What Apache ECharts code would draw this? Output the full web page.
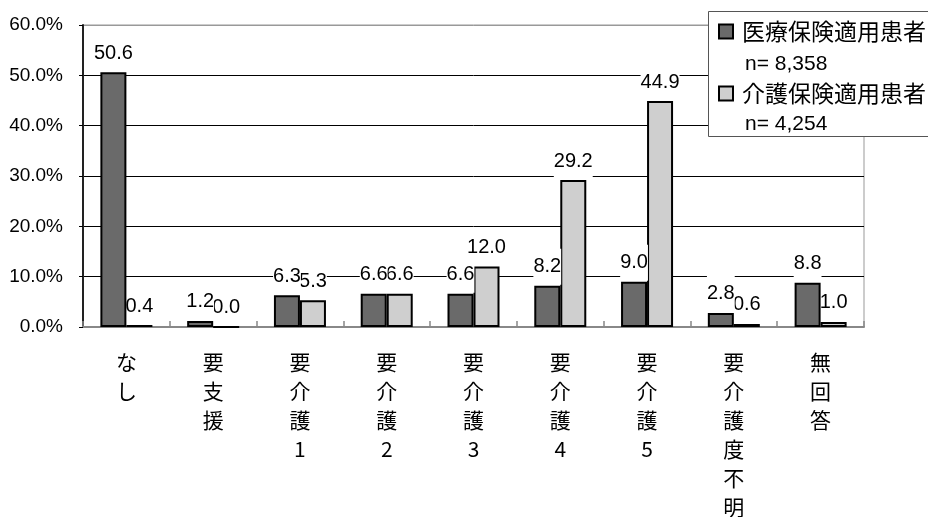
<!DOCTYPE html>
<html>
<head>
<meta charset="utf-8">
<script src="https://cdn.jsdelivr.net/npm/echarts@6/dist/echarts.min.js"></script>
<style>
  html, body { margin: 0; padding: 0; background: #fff; }
  #chart { width: 928px; height: 517px; }
</style>
</head>
<body>
<div id="chart"></div>
<script>
// Care-level breakdown of patients (percent), by insurance type
const categories = ['なし', '要支援', '要介護1', '要介護2', '要介護3', '要介護4', '要介護5', '要介護度不明', '無回答'];
const seriesNames = ['医療保険適用患者', '介護保険適用患者'];
const sampleSizes = ['n= 8,358', 'n= 4,254'];
const medicalValues = [50.6, 1.2, 6.3, 6.6, 6.6, 8.2, 9.0, 2.8, 8.8];
const careValues = [0.4, 0.0, 5.3, 6.6, 12.0, 29.2, 44.9, 0.6, 1.0];
const yTicks = [0, 10, 20, 30, 40, 50, 60];

const numFont = '"Liberation Sans", Arial, sans-serif';
const cjkFont = '"Noto Sans CJK JP", sans-serif';

const chart = echarts.init(document.getElementById('chart'), null, { renderer: 'canvas' });

function barLabel() {
  return {
    show: true,
    position: 'top',
    distance: 1,
    color: '#000',
    fontFamily: numFont,
    fontSize: 20,
    backgroundColor: '#fff',
    padding: [8, 0],
    formatter: p => p.value.toFixed(1)
  };
}

function makeSeries(name, values, fill, z) {
  return {
    name: name,
    type: 'bar',
    z: z,
    barWidth: 26,
    barGap: '0%',
    data: values.map(v => v),
    itemStyle: { color: fill, borderColor: '#000', borderWidth: 2 },
    label: barLabel(),
    labelLayout: { hideOverlap: false }
  };
}

const option = {
  animation: false,
  backgroundColor: '#fff',
  grid: {
    left: 83, right: 64, top: 25, bottom: 190,
    outerBoundsMode: 'none',
    containLabel: false,
    show: true, borderColor: '#999', borderWidth: 1, backgroundColor: 'transparent'
  },
  legend: {
    data: seriesNames,
    orient: 'vertical',
    left: 718,
    top: 20,
    padding: 0,
    itemGap: 39,
    itemWidth: 14,
    itemHeight: 14,
    icon: 'rect',
    z: 6,
    textStyle: { fontFamily: cjkFont, fontSize: 23, color: '#000', padding: [0, 0, 0, 4] },
    selectedMode: false
  },
  graphic: [
    {
      type: 'rect', z: 4,
      shape: { x: 708.5, y: 11.5, width: 240, height: 125 },
      style: { fill: '#fff', stroke: '#555', lineWidth: 1 }
    },
    {
      type: 'text', z: 6, left: 745, top: 54,
      style: { text: sampleSizes[0], fontFamily: numFont, fontSize: 21, fill: '#000' }
    },
    {
      type: 'text', z: 6, left: 745, top: 114,
      style: { text: sampleSizes[1], fontFamily: numFont, fontSize: 21, fill: '#000' }
    }
  ],
  xAxis: {
    type: 'category',
    data: categories,
    axisLine: { lineStyle: { color: '#888', width: 2 } },
    axisTick: { show: true, inside: true, length: 6, lineStyle: { color: '#888', width: 1.5 } },
    axisLabel: {
      interval: 0,
      margin: 21,
      fontFamily: cjkFont,
      fontSize: 21,
      lineHeight: 29,
      color: '#000',
      formatter: v => v.split('').join('\n')
    }
  },
  yAxis: {
    type: 'value',
    min: yTicks[0],
    max: yTicks[yTicks.length - 1],
    interval: 10,
    axisLine: { show: true, lineStyle: { color: '#222', width: 2 } },
    axisTick: { show: true, length: 4, lineStyle: { color: '#000' } },
    splitLine: {
      show: true,
      lineStyle: { color: ['#000', '#000', '#000', '#000', '#000', '#000', '#999'], width: 1 }
    },
    axisLabel: {
      margin: 20,
      fontFamily: numFont,
      fontSize: 19,
      color: '#000',
      formatter: v => v.toFixed(1) + '%'
    }
  },
  series: [
    makeSeries(seriesNames[0], medicalValues, '#6a6a6a', 3),
    makeSeries(seriesNames[1], careValues, '#cfcfcf', 2)
  ]
};

chart.setOption(option);
</script>
</body>
</html>
